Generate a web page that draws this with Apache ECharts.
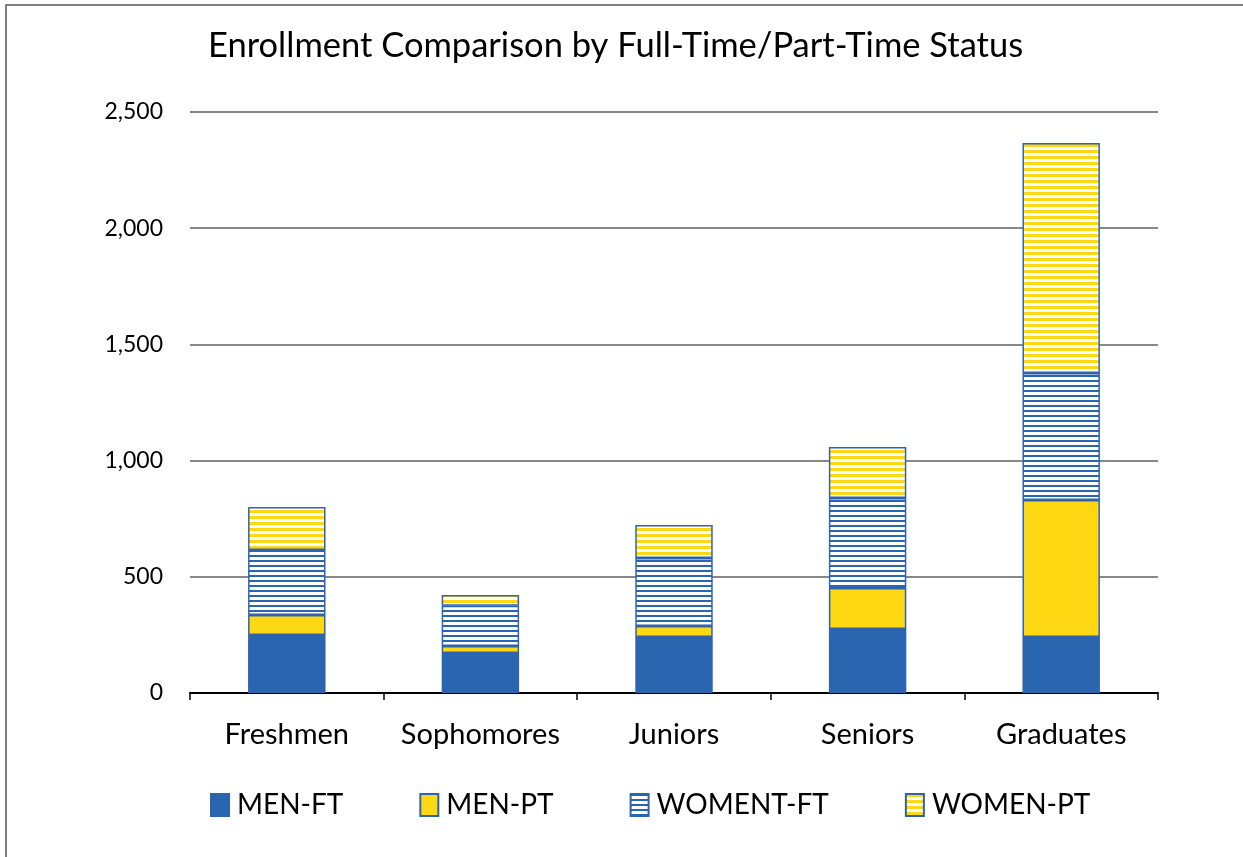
<!DOCTYPE html>
<html>
<head>
<meta charset="utf-8">
<script src="https://cdn.jsdelivr.net/npm/echarts@6/dist/echarts.min.js"></script>
<style>
  html, body { margin: 0; padding: 0; background: #fff; }
  #chart { width: 1243px; height: 857px; }
</style>
</head>
<body>
<div id="chart"></div>
<script>
const categories = ['Freshmen', 'Sophomores', 'Juniors', 'Seniors', 'Graduates']
const menFT = [250, 172, 241, 275, 241]
const menPT = [86, 30, 47, 177, 589]
const womenFT = [279, 173, 293, 387, 547]
const womenPT = [185, 47, 142, 220, 990]

const BLUE = '#2a66b0'
const YELLOW = '#ffd814'
const EDGE = '#2f64ad'

// horizontal stripe fill, like the excel pattern fill
function stripes(fg, bg, on, off) {
  const c = document.createElement('canvas')
  c.width = 8
  c.height = on + off
  const ctx = c.getContext('2d')
  ctx.fillStyle = bg
  ctx.fillRect(0, 0, 8, on + off)
  ctx.fillStyle = fg
  ctx.fillRect(0, 0, 8, on)
  return { image: c, repeat: 'repeat' }
}

const myChart = echarts.init(document.getElementById('chart'))

const barSeries = (name, data, color) => ({
  name: name,
  type: 'bar',
  stack: 'total',
  barWidth: '40%',
  data: data,
  itemStyle: { color: color, borderColor: EDGE, borderWidth: 1.5 }
})

myChart.setOption({
  animation: false,
  textStyle: { fontFamily: 'Lato' },
  title: {
    text: 'Enrollment Comparison by Full-Time/Part-Time Status',
    left: 203,
    top: 23,
    textStyle: { fontFamily: 'Lato', fontWeight: 'normal', fontSize: 34.5, color: '#000' }
  },
  graphic: [{
    type: 'rect',
    shape: { x: 6, y: 5, width: 1400, height: 1000 },
    style: { fill: 'none', stroke: '#555', lineWidth: 1.5 },
    silent: true,
    z: -10
  }],
  legend: {
    bottom: 33,
    left: 205,
    icon: 'rect',
    itemWidth: 18,
    itemHeight: 22,
    itemGap: 76,
    textStyle: { fontSize: 28, color: '#000', padding: [0, 0, 0, 3] },
    data: ['MEN-FT', 'MEN-PT', 'WOMENT-FT', 'WOMEN-PT']
  },
  grid: { left: 190, right: 85, top: 112, bottom: 164 },
  xAxis: {
    type: 'category',
    data: categories,
    axisLine: { lineStyle: { color: '#000', width: 2 } },
    axisTick: { show: true, interval: 0, length: 7, lineStyle: { color: '#000', width: 1.5 } },
    axisLabel: { interval: 0, fontSize: 29, color: '#000', margin: 27 }
  },
  yAxis: {
    type: 'value',
    min: 0,
    max: 2500,
    interval: 500,
    axisLine: { show: false },
    axisTick: { show: false },
    axisLabel: {
      fontSize: 23,
      color: '#000',
      margin: 27,
      formatter: v => v.toLocaleString('en-US')
    },
    splitLine: { lineStyle: { color: '#888', width: 2 } }
  },
  series: [
    barSeries('MEN-FT', menFT, BLUE),
    barSeries('MEN-PT', menPT, YELLOW),
    barSeries('WOMENT-FT', womenFT, stripes(BLUE, '#ffffff', 2, 3)),
    barSeries('WOMEN-PT', womenPT, stripes(YELLOW, '#ffffff', 3, 3))
  ]
})
</script>
</body>
</html>
